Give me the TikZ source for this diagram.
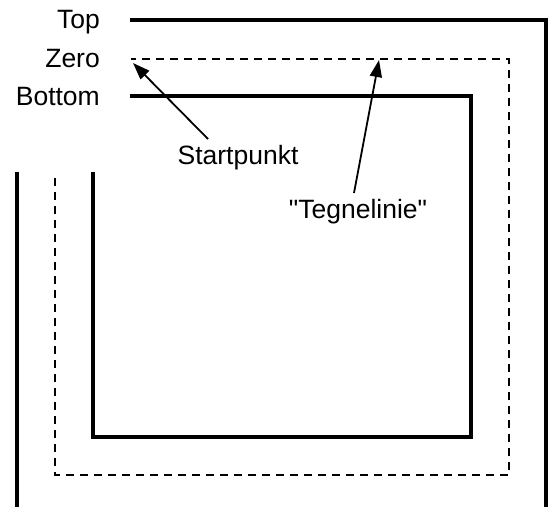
\documentclass[tikz,border=0pt]{standalone}
\usepackage{fontspec}
\setmainfont{Liberation Sans}[Ligatures=TeXOff]
\usetikzlibrary{arrows.meta}
\begin{document}
\begin{tikzpicture}[x=1pt,y=-1pt,
  solidln/.style={line width=3.4pt},
  dashln/.style={line width=2pt,dash pattern=on 8pt off 6pt},
  lbl/.style={font=\fontsize{26.5}{30}\selectfont,inner sep=0pt},
  arr/.style={line width=1.8pt,-{Triangle[length=17pt,width=12pt]}}]
\useasboundingbox (0,0) rectangle (555,507);
% labels
\node[lbl,anchor=base east] (top) at (100,28) {Top};
\node[lbl,anchor=base east] (zero) at (100,67) {Zero};
\node[lbl,anchor=base east] (bot) at (100,105) {Bottom};
% lines
\coordinate (t1) at (130,20);
\coordinate (t2) at (546,20);
\coordinate (t3) at (546,507);
\draw[solidln] (t1) -- (t2) -- (t3);
\coordinate (l1) at (17,172);
\coordinate (l2) at (17,507);
\draw[solidln] (l1) -- (l2);
\coordinate (z1) at (131,59);
\coordinate (z2) at (509,59);
\coordinate (z3) at (509,475);
\coordinate (z4) at (55,475);
\coordinate (z5) at (55,178);
\draw[dashln] (z5) -- (z4) -- (z3) -- (z2) -- (z1);
\coordinate (b1) at (130,96);
\coordinate (b2) at (471,96);
\coordinate (b3) at (471,437);
\coordinate (b4) at (93,437);
\coordinate (b5) at (93,172);
\draw[solidln] (b1) -- (b2) -- (b3) -- (b4) -- (b5);
% annotations
\node[lbl,anchor=base] (sp) at (238,164) {Startpunkt};
\node[lbl,anchor=base] (tl) at (358,218) {"Tegnelinie"};
\coordinate (sps) at (208,139);
\coordinate (tls) at (354,193);
\coordinate (spt) at (133,63);
\coordinate (tlt) at (379,60);
\draw[arr] (sps) -- (spt);
\draw[arr] (tls) -- (tlt);
\end{tikzpicture}
\end{document}
